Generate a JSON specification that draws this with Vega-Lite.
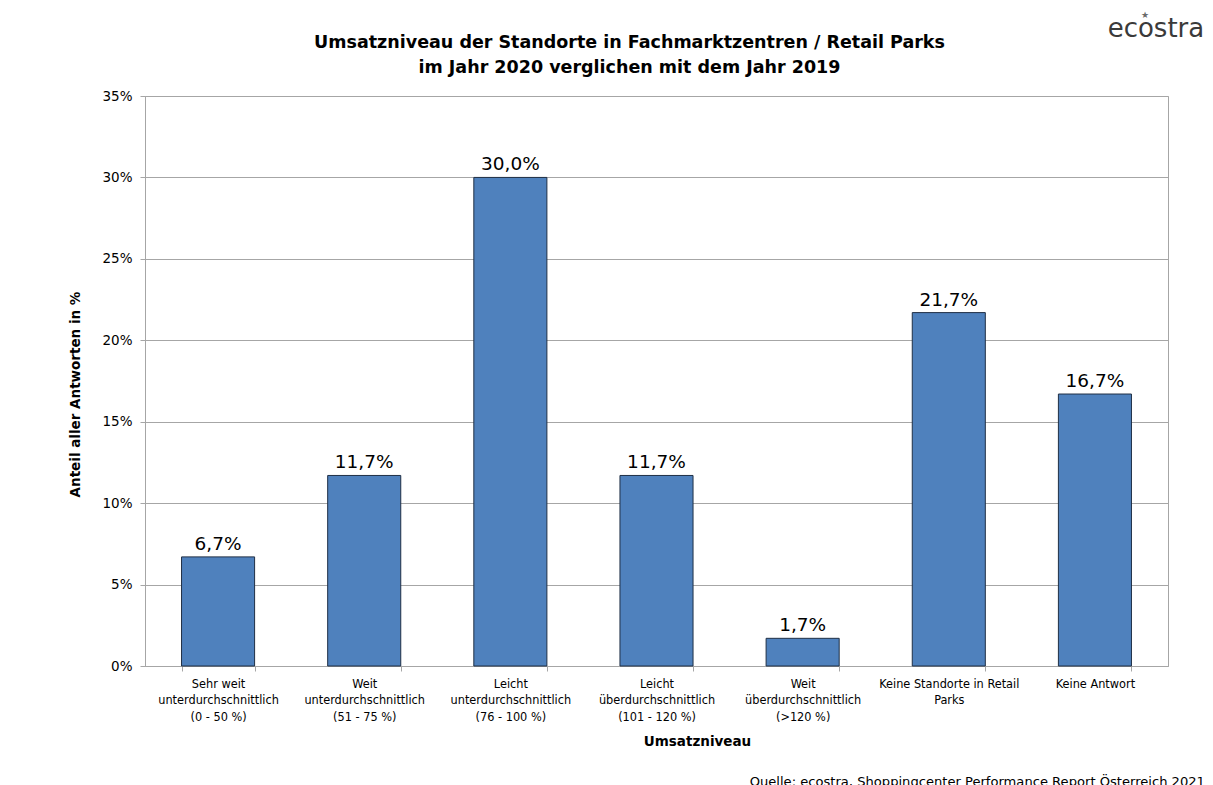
{
  "$schema": "https://vega.github.io/schema/vega-lite/v6.json",
  "width": 1023,
  "height": 570,
  "autosize": {"type": "none"},
  "padding": {"left": 145, "top": 96, "right": 45, "bottom": 119},
  "background": "white",
  "config": {
    "locale": {"number": {"decimal": ",", "thousands": ".", "grouping": [3], "currency": ["", " €"]}},
    "font": "'DejaVu Sans', sans-serif",
    "view": {"stroke": "#a6a6a6", "strokeWidth": 1}
  },
  "data": {
    "values": [
      {"Umsatzniveau": "Sehr weit|unterdurchschnittlich|(0 - 50 %)", "Anteil": 0.067},
      {"Umsatzniveau": "Weit|unterdurchschnittlich|(51 - 75 %)", "Anteil": 0.117},
      {"Umsatzniveau": "Leicht|unterdurchschnittlich|(76 - 100 %)", "Anteil": 0.300},
      {"Umsatzniveau": "Leicht|überdurchschnittlich|(101 - 120 %)", "Anteil": 0.117},
      {"Umsatzniveau": "Weit|überdurchschnittlich|(>120 %)", "Anteil": 0.017},
      {"Umsatzniveau": "Keine Standorte in Retail|Parks", "Anteil": 0.217},
      {"Umsatzniveau": "Keine Antwort", "Anteil": 0.167}
    ]
  },
  "layer": [
    {
      "mark": {"type": "bar", "fill": "#4f81bd", "stroke": "#1f2f45", "strokeWidth": 1},
      "encoding": {
        "x": {
          "field": "Umsatzniveau", "type": "nominal", "sort": null,
          "scale": {"paddingInner": 0.5, "paddingOuter": 0.25},
          "axis": {
            "title": "Umsatzniveau",
            "labelAngle": 0,
            "tickBand": "extent",
            "tickSize": 5,
            "labelFont": "DejaVu Sans Condensed",
            "labelFontSize": 12.6,
            "labelLineHeight": 16.5,
            "labelExpr": "split(datum.label, '|')",
            "labelPadding": 6,
            "labelBaseline": "top",
            "labelColor": "black",
            "titleX": 552,
            "titleY": 75,
            "titleBaseline": "middle",
            "titleFont": "DejaVu Sans",
            "titleFontSize": 13.5,
            "titleFontWeight": "bold",
            "titleColor": "black",
            "domainColor": "#a6a6a6",
            "tickColor": "#a6a6a6"
          }
        },
        "y": {
          "field": "Anteil", "type": "quantitative",
          "scale": {"domain": [0, 0.35]},
          "axis": {
            "title": "Anteil aller Antworten in %",
            "format": ".0%",
            "values": [0, 0.05, 0.1, 0.15, 0.2, 0.25, 0.3, 0.35],
            "tickSize": 5,
            "labelPadding": 8,
            "labelFont": "DejaVu Sans",
            "labelFontSize": 13.5,
            "labelColor": "black",
            "gridColor": "#a6a6a6",
            "domainColor": "#a6a6a6",
            "tickColor": "#a6a6a6",
            "titleFont": "DejaVu Sans",
            "titleFontSize": 13.5,
            "titleFontWeight": "bold",
            "titleColor": "black",
            "titleX": -70,
            "titleY": 298,
            "titleAngle": -90,
            "titleAlign": "center",
            "titleBaseline": "middle"
          }
        }
      }
    },
    {
      "mark": {"type": "text", "baseline": "alphabetic", "dy": -7, "font": "DejaVu Sans", "fontSize": 18.5, "color": "black"},
      "encoding": {
        "x": {"field": "Umsatzniveau", "type": "nominal", "sort": null},
        "y": {"field": "Anteil", "type": "quantitative"},
        "text": {"field": "Anteil", "type": "quantitative", "format": ".1%"}
      }
    },
    {
      "data": {"values": [{"t": "Umsatzniveau der Standorte in Fachmarktzentren / Retail Parks\nim Jahr 2020 verglichen mit dem Jahr 2019"}]},
      "mark": {"type": "text", "font": "DejaVu Sans", "fontSize": 17.5, "fontWeight": "bold", "color": "black", "baseline": "alphabetic", "align": "center", "dx": -27, "lineBreak": "\n", "lineHeight": 25},
      "encoding": {
        "x": {"datum": "Leicht|überdurchschnittlich|(101 - 120 %)", "type": "nominal"},
        "y": {"datum": 0.3795, "type": "quantitative"},
        "text": {"field": "t", "type": "nominal"}
      }
    },
    {
      "data": {"values": [{"t": "ecostra"}]},
      "mark": {"type": "text", "font": "DejaVu Sans", "fontSize": 26, "color": "#3a3a3a", "baseline": "alphabetic", "align": "center", "dx": 61},
      "encoding": {
        "x": {"datum": "Keine Antwort", "type": "nominal"},
        "y": {"datum": 0.3862, "type": "quantitative"},
        "text": {"field": "t", "type": "nominal"}
      }
    },
    {
      "data": {"values": [{"t": "★"}]},
      "mark": {"type": "text", "fontSize": 9, "color": "#6a6a6a", "baseline": "middle", "align": "center", "dx": 50},
      "encoding": {
        "x": {"datum": "Keine Antwort", "type": "nominal"},
        "y": {"datum": 0.4, "type": "quantitative"},
        "text": {"field": "t", "type": "nominal"}
      }
    },
    {
      "data": {"values": [{"t": "Quelle: ecostra, Shoppingcenter Performance Report Österreich 2021"}]},
      "mark": {"type": "text", "font": "DejaVu Sans", "fontSize": 13.1, "color": "black", "baseline": "middle", "align": "right", "dx": 110},
      "encoding": {
        "x": {"datum": "Keine Antwort", "type": "nominal"},
        "y": {"datum": -0.0712, "type": "quantitative"},
        "text": {"field": "t", "type": "nominal"}
      }
    }
  ]
}
